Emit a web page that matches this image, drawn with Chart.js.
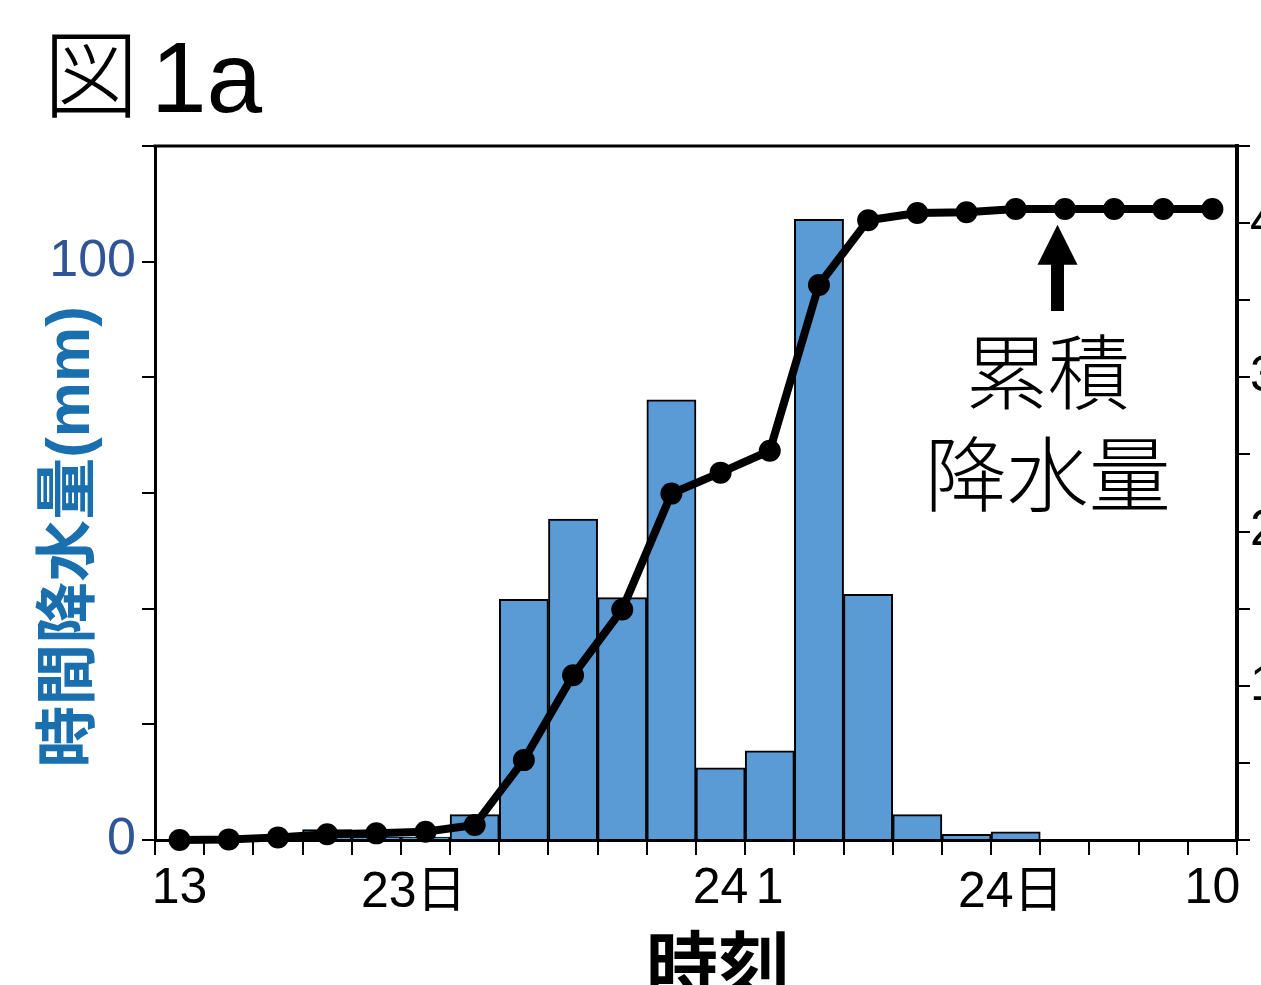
<!DOCTYPE html>
<html>
<head>
<meta charset="utf-8">
<script src="https://cdn.jsdelivr.net/npm/chart.js@4/dist/chart.umd.min.js"></script>
<style>
  html, body { margin: 0; padding: 0; background: #fff; overflow: hidden; }
  #wrap { position: relative; width: 1340px; height: 985px; }
</style>
</head>
<body>
<div id="wrap"><canvas id="c" width="1340" height="985"></canvas></div>
<script>
// Hourly categories: 13h on the 23rd through 10h on the 24th
const hours = ['13','14','15','16','17','18','19','20','21','22','23','24',
               '1','2','3','4','5','6','7','8','9','10'];
// Hour labels printed under the axis
const shownHours = ['13','24','1','10'];
// Hourly rainfall (mm), left axis
const hourlyRain = [0, 0, 0.4, 1.8, 0.5, 0.5, 4.4, 41.6, 55.5, 41.9, 76.1, 12.5,
                    15.4, 107.3, 42.5, 4.4, 1.0, 1.4, 0, 0, 0, 0];
// Cumulative rainfall (mm), right axis
const cumulativeRain = [0, 0.4, 1.7, 3.7, 4.3, 5.4, 9.7, 51.8, 106.8, 149.5, 224.6, 238.2,
                        252.4, 359.9, 401.9, 406.5, 407.1, 409.1, 409.1, 409.1, 409.1, 409.1];
// Tick values
const leftTickLabels = [0, 100];
const rightTickLabels = [100, 200, 300, 400];
// Day labels under the hour labels
const dayLabels = ['23日', '24日'];
// Text and titles
const figTitleMark = '図';
const figTitleText = '1a';
const yTitle = '時間降水量(mm)';
const xTitle = '時刻';
const noteLines = ['累積', '降水量'];

const NUM = '"Liberation Sans", Arial, sans-serif';
const CJK = '"Noto Sans CJK JP", sans-serif';
const MIX = '"Liberation Sans", "Noto Sans CJK JP", sans-serif';

const AREA = { left: 155, right: 1237, top: 146, bottom: 840 };
const CANVAS_W = 1340, CANVAS_H = 985;

const decorations = {
  id: 'decorations',
  afterDraw(chart) {
    const ctx = chart.ctx;
    const a = chart.chartArea;
    const xs = chart.scales.x, y2 = chart.scales.y2;
    ctx.save();

    // top frame line
    ctx.strokeStyle = '#000';
    ctx.lineWidth = 3;
    ctx.beginPath();
    ctx.moveTo(a.left - 1.5, a.top);
    ctx.lineTo(a.right + 2, a.top);
    ctx.stroke();

    // figure title
    ctx.fillStyle = '#000';
    ctx.textBaseline = 'alphabetic';
    ctx.textAlign = 'left';
    ctx.font = '300 96px ' + CJK;
    ctx.fillText(figTitleMark, 43, 110);
    ctx.font = '100px ' + NUM;
    ctx.fillText(figTitleText, 151, 112);

    // left axis title (rotated)
    ctx.save();
    ctx.translate(72, 537);
    ctx.rotate(-Math.PI / 2);
    ctx.fillStyle = '#1a6fae';
    ctx.font = 'bold 62px ' + MIX;
    ctx.textAlign = 'center';
    ctx.textBaseline = 'middle';
    ctx.fillText(yTitle, 0, 0);
    ctx.restore();

    // bottom axis title
    ctx.fillStyle = '#000';
    ctx.font = 'bold 72px ' + CJK;
    ctx.textAlign = 'center';
    ctx.textBaseline = 'middle';
    ctx.fillText(xTitle, 718, 964);

    // day labels below the hour labels
    ctx.font = '50px ' + MIX;
    ctx.textBaseline = 'middle';
    const daySlots = [4.76, 16.9];
    dayLabels.forEach((t, i) => {
      ctx.fillText(t, xs.getPixelForValue(daySlots[i]), xs.top + 53);
    });

    // arrow pointing at the cumulative curve
    const ax = xs.getPixelForValue(17.85);
    const tipY = y2.getPixelForValue(399);
    const baseY = y2.getPixelForValue(373);
    const tailY = y2.getPixelForValue(343);
    ctx.fillStyle = '#000';
    ctx.fillRect(ax - 6.5, baseY - 2, 13, tailY - baseY + 2);
    ctx.beginPath();
    ctx.moveTo(ax, tipY);
    ctx.lineTo(ax - 20, baseY);
    ctx.lineTo(ax + 20, baseY);
    ctx.closePath();
    ctx.fill();

    // note text
    ctx.font = '300 82px ' + CJK;
    ctx.textAlign = 'center';
    ctx.textBaseline = 'middle';
    const nx = xs.getPixelForValue(17.65);
    ctx.fillText(noteLines[0], nx, y2.getPixelForValue(303.6));
    ctx.fillText(noteLines[1], nx, y2.getPixelForValue(237.5));

    ctx.restore();
  }
};

new Chart(document.getElementById('c'), {
  data: {
    labels: hours,
    datasets: [
      {
        type: 'line',
        data: cumulativeRain,
        yAxisID: 'y2',
        order: 0,
        borderColor: '#000',
        borderWidth: 8,
        pointRadius: 11,
        pointBackgroundColor: '#000',
        pointBorderColor: '#000',
        pointBorderWidth: 0,
        tension: 0,
        clip: false
      },
      {
        type: 'bar',
        data: hourlyRain,
        yAxisID: 'y',
        order: 1,
        backgroundColor: '#5b9bd5',
        borderColor: '#000',
        borderWidth: 2,
        barPercentage: 1,
        categoryPercentage: 1
      }
    ]
  },
  options: {
    responsive: false,
    animation: false,
    events: [],
    layout: { padding: { top: AREA.top, left: 0, right: 0, bottom: 0 } },
    plugins: { legend: { display: false }, tooltip: { enabled: false }, title: { display: false } },
    scales: {
      x: {
        type: 'category',
        offset: true,
        grid: { offset: true, drawOnChartArea: false, drawTicks: true, tickLength: 15, lineWidth: 2, color: '#000' },
        border: { display: true, color: '#000', width: 3 },
        ticks: {
          autoSkip: false, maxRotation: 0, minRotation: 0, padding: 4,
          color: '#000', font: { family: NUM, size: 50 },
          callback(v) { const l = hours[v]; return shownHours.includes(l) ? l : ''; }
        },
        afterFit(s) { s.height = CANVAS_H - AREA.bottom; }
      },
      y: {
        position: 'left',
        min: 0, max: 120,
        grid: { drawOnChartArea: false, tickLength: 13, lineWidth: 2, color: '#000' },
        border: { display: true, color: '#000', width: 3 },
        ticks: {
          stepSize: 20, padding: 6, color: '#2f5597', font: { family: NUM, size: 52 },
          callback(v) { return leftTickLabels.includes(v) ? String(v) : ''; }
        },
        afterFit(s) { s.width = AREA.left; }
      },
      y2: {
        position: 'right',
        min: 0, max: 450,
        grid: { drawOnChartArea: false, tickLength: 13, lineWidth: 2, color: '#000' },
        border: { display: true, color: '#000', width: 4 },
        ticks: {
          stepSize: 50, padding: 0, color: '#000', font: { family: NUM, size: 50 },
          callback(v) { return rightTickLabels.includes(v) ? String(v) : ''; }
        },
        afterFit(s) { s.width = CANVAS_W - AREA.right; }
      }
    }
  },
  plugins: [decorations]
});
</script>
</body>
</html>
